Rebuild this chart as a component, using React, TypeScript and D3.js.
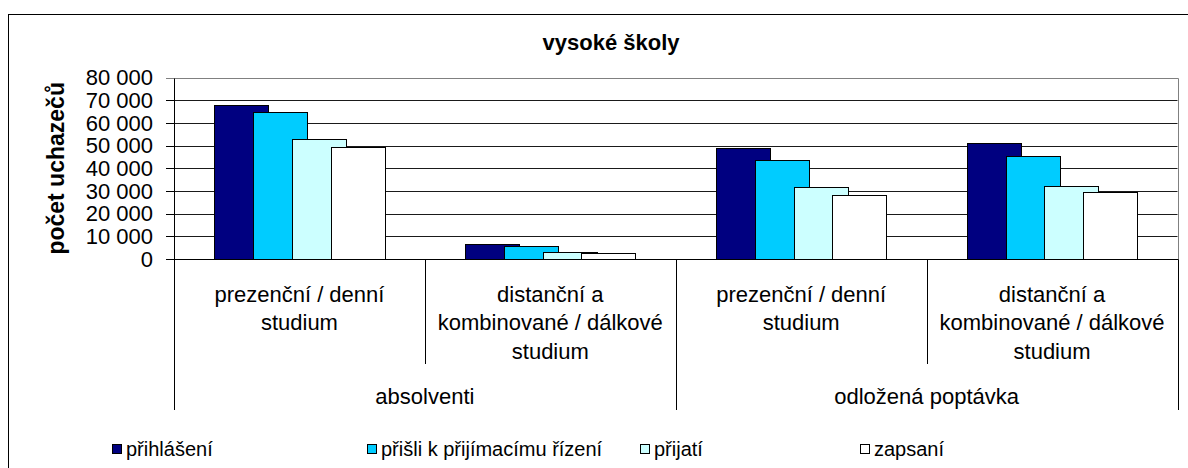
import React from 'react';
import * as d3 from 'd3';

const chartTitle = 'vysoké školy';
const yAxisTitle = 'počet uchazečů';
const outerGroups = ['absolventi', 'odložená poptávka'];
const categoryLines: string[][] = [
  ['prezenční / denní', 'studium'],
  ['distanční a', 'kombinované / dálkové', 'studium'],
  ['prezenční / denní', 'studium'],
  ['distanční a', 'kombinované / dálkové', 'studium'],
];
const categoryGroup = [0, 0, 1, 1];
const seriesNames = ['přihlášení', 'přišli k přijímacímu řízení', 'přijatí', 'zapsaní'];
const seriesColors = ['#000080', '#00CCFF', '#CCFFFF', '#FFFFFF'];
const prihlaseni = [67800, 6600, 48900, 51000];
const prisli = [64900, 5900, 43900, 45500];
const prijati = [52900, 3200, 31600, 32200];
const zapsani = [49500, 2600, 28300, 29700];
const yTicks = [0, 10000, 20000, 30000, 40000, 50000, 60000, 70000, 80000];
const legendX = [112, 367, 640, 860];

const FONT = '"Liberation Sans", Arial, sans-serif';

export default function App() {
  const W = 1188, H = 468;
  const left = 174, right = 1177.5, top = 77.7, bottom = 259;
  const series = [prihlaseni, prisli, prijati, zapsani];
  const x = d3.scaleBand<number>().domain([0, 1, 2, 3]).range([left, right]).paddingInner(0).paddingOuter(0);
  const y = d3.scaleLinear().domain([0, 80000]).range([bottom, top]);
  const bw = x.bandwidth();
  const barW = bw * 0.2153;
  const step = barW * 0.717;
  const groupW = step * 3 + barW;
  const off = (bw - groupW) / 2;
  const fmt = d3.formatLocale({ decimal: ',', thousands: '\u00a0', grouping: [3], currency: ['', ''] }).format(',d');
  const px = (v: number) => Math.round(v) + 0.5;
  const boundaries = [0, 1, 2, 3].map((i) => x(i)!).concat([right]);

  return (
    <svg width={W} height={H} style={{ position: 'absolute', left: 0, top: 0, background: '#fff' }} fontFamily={FONT}>
      <rect x={0} y={0} width={W} height={H} fill="#fff" />
      <rect x={8.5} y={14.5} width={1300} height={600} fill="none" stroke="#000" strokeWidth={1} />
      <text x={611} y={50} textAnchor="middle" fontSize={22} fontWeight="bold">{chartTitle}</text>
      {yTicks.filter((t) => t > 0 && t < 80000).map((t) => (
        <line key={'g' + t} x1={left} x2={right} y1={px(y(t))} y2={px(y(t))} stroke="#1a1a1a" strokeWidth={1} />
      ))}
      <line x1={left} x2={px(right)} y1={px(top)} y2={px(top)} stroke="#808080" />
      <line x1={px(right)} x2={px(right)} y1={px(top)} y2={px(bottom)} stroke="#808080" />
      {series.map((vals, s) => (
        <g key={'s' + s}>
          {vals.map((v, i) => {
            const bx = x(i)! + off + s * step;
            return (
              <rect key={i} x={Math.round(bx) + 0.5} y={Math.round(y(v)) + 0.5} width={Math.round(barW)} height={Math.round(bottom) - Math.round(y(v))}
                fill={seriesColors[s]} stroke="#000" strokeWidth={1} />
            );
          })}
        </g>
      ))}
      <line x1={px(left)} x2={px(left)} y1={px(top)} y2={410} stroke="#000" />
      <line x1={px(left)} x2={px(right)} y1={px(bottom)} y2={px(bottom)} stroke="#000" />
      {yTicks.map((t) => (
        <g key={'t' + t}>
          <line x1={166} x2={left} y1={px(y(t))} y2={px(y(t))} stroke={t === 80000 ? '#808080' : '#000'} />
          <text x={153} y={y(t)} dy="0.35em" textAnchor="end" fontSize={22}>{fmt(t)}</text>
        </g>
      ))}
      <text transform={`translate(64,${(top + bottom) / 2}) rotate(-90)`} textAnchor="middle" fontSize={23} fontWeight="bold">{yAxisTitle}</text>
      {boundaries.map((b, i) => {
        if (i === 0) return null;
        const outer = i === 4 || categoryGroup[i] !== categoryGroup[i - 1];
        return <line key={'d' + i} x1={px(b)} x2={px(b)} y1={px(bottom)} y2={outer ? 410 : 364} stroke="#000" />;
      })}
      {categoryLines.map((lines, i) => (
        <text key={'c' + i} textAnchor="middle" fontSize={22}>
          {lines.map((ln, j) => (
            <tspan key={j} x={x(i)! + bw / 2} y={301.5 + j * 28.8}>{ln}</tspan>
          ))}
        </text>
      ))}
      {outerGroups.map((g, gi) => {
        const idx = categoryGroup.map((c, i) => (c === gi ? i : -1)).filter((i) => i >= 0);
        const x0 = x(idx[0])!;
        const x1 = x(idx[idx.length - 1])! + bw;
        return <text key={'o' + gi} x={(x0 + x1) / 2} y={404} textAnchor="middle" fontSize={22}>{g}</text>;
      })}
      {seriesNames.map((n, s) => (
        <g key={'l' + s}>
          <rect x={legendX[s] + 0.5} y={444.5} width={9} height={9} fill={seriesColors[s]} stroke="#000" />
          <text x={legendX[s] + 14} y={456} fontSize={20}>{n}</text>
        </g>
      ))}
    </svg>
  );
}
